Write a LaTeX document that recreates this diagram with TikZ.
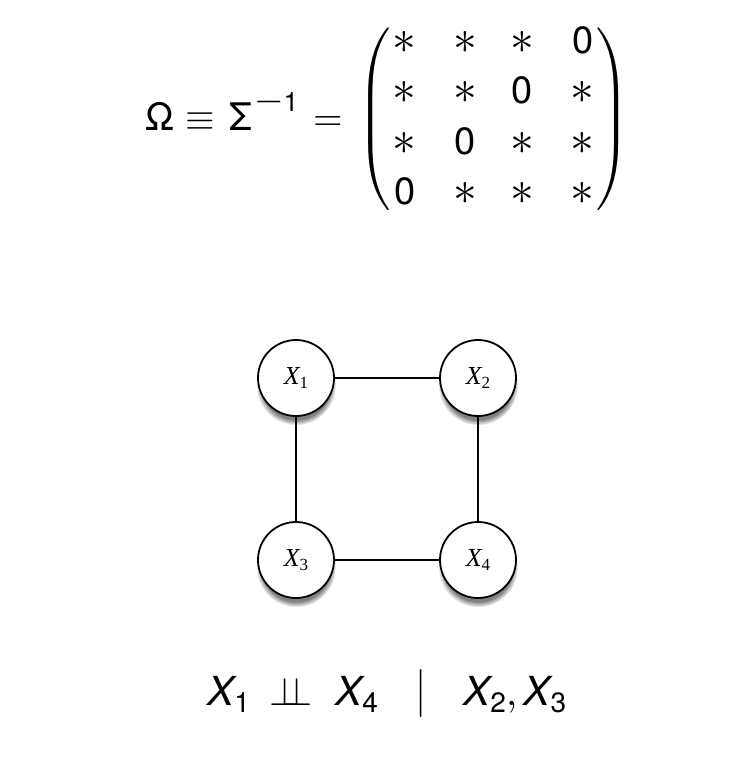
\RequirePackage{fix-cm}
\documentclass[tikz,border=0pt]{standalone}
\usepackage{fontspec}
\usepackage{xcolor}
\newfontfamily\hv{TeX Gyre Heros}
\newfontfamily\tm{Liberation Serif}
\usepackage{tikz}
\usetikzlibrary{shadows}
\newcommand\zr{\mbox{\hv 0}}
\newcommand\sa{\scalebox{1.25}{$\ast$}}
\newcommand\vx[1]{{\hv\itshape X}\raisebox{-1.8pt}{\hv\scriptsize #1}}
\newcommand\nx[1]{{\tm\itshape X}\raisebox{-4pt}{\tm\fontsize{17}{17}\selectfont #1}}
\tikzset{
  grnode/.style={circle,draw,line width=1.8pt,fill=white,minimum size=76pt,inner sep=0pt,font=\fontsize{26}{30}\selectfont,
    circular drop shadow={shadow xshift=0pt,shadow yshift=-7pt,shadow scale=1.05,opacity=1}},
  gredge/.style={line width=1.4pt},
  eqtext/.style={inner sep=0pt,scale=3.8},
  cilabel/.style={inner sep=0pt,scale=4},
}
\begin{document}
\begin{tikzpicture}[x=1pt,y=-1pt]
\useasboundingbox (0,0) rectangle (738,772);
\node[eqtext,anchor=base west] (lhs) at (145,130) {$\mbox{\hv Ω}\equiv\mskip2mu\mbox{\hv Σ}^{\mskip1mu\mbox{$-$}\mbox{\hv\scriptsize 1}}\mskip1mu=$};
\node[eqtext,anchor=west] (omat) at (357,119) {\renewcommand\arraystretch{1.1}$\left(\begin{array}{@{\hspace{0.5pt}}c@{\hspace{9.7pt}}c@{\hspace{8.7pt}}c@{\hspace{9.7pt}}c@{\hspace{0.6pt}}}
\sa & \sa & \sa & \zr\\
\sa & \sa & \zr & \sa\\
\sa & \zr & \sa & \sa\\
\zr & \sa & \sa & \sa
\end{array}\right)$};
\node[grnode] (x1) at (296,378) {\nx{1}};
\node[grnode] (x2) at (478,378) {\nx{2}};
\node[grnode] (x3) at (296,560) {\nx{3}};
\node[grnode] (x4) at (478,560) {\nx{4}};
\draw[gredge] (x1)--(x2);\draw[gredge] (x1)--(x3);
\draw[gredge] (x2)--(x4);\draw[gredge] (x3)--(x4);
\node[cilabel,anchor=base west] (c1) at (207,705) {\vx{1}};
\node[cilabel,anchor=base] (cind) at (291,705) {$\perp\!\!\!\perp$};
\node[cilabel,anchor=base west] (c4) at (335,705) {\vx{4}};
\node[cilabel,anchor=base] (cbar) at (421,705) {\scalebox{1}[1.2]{$|$}};
\node[cilabel,anchor=base west] (c23) at (463,705) {\vx{2},\,\vx{3}};
\end{tikzpicture}
\end{document}
